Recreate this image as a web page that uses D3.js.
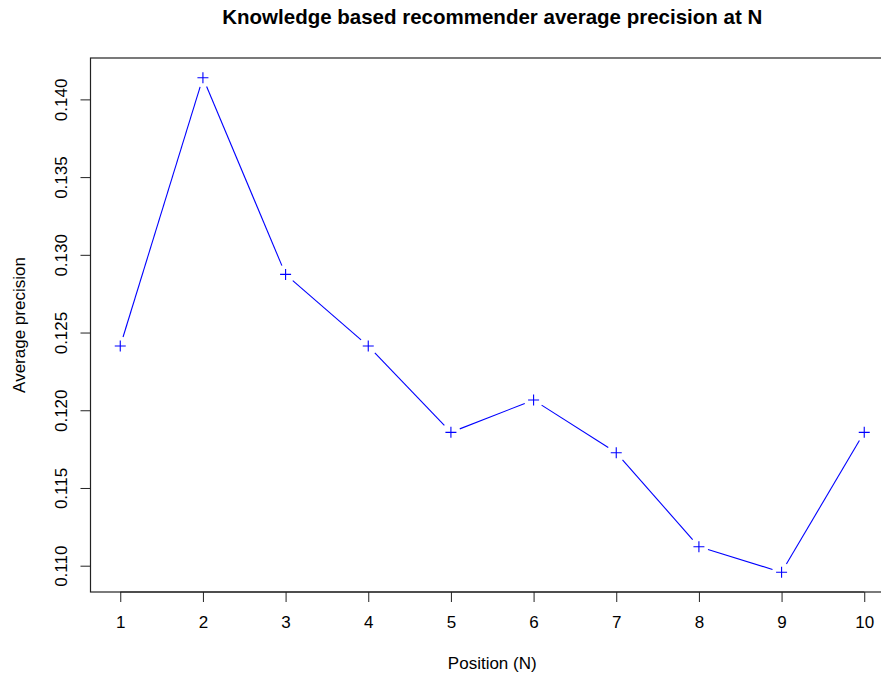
<!DOCTYPE html>
<html><head><meta charset="utf-8">
<script src="https://cdn.jsdelivr.net/npm/d3@7/dist/d3.min.js"></script>
<style>body{margin:0;background:#fff}svg{display:block}text{font-family:"Liberation Sans",Arial,sans-serif;fill:#000}</style>
</head><body>
<svg id="c" width="881" height="677"></svg>
<script>
const positions = [1,2,3,4,5,6,7,8,9,10];
const precision = [0.12413,0.14139,0.12874,0.12413,0.11858,0.12066,0.11727,0.11122,0.10958,0.11858];
const xTicks = [1,2,3,4,5,6,7,8,9,10];
const yTicks = [0.110,0.115,0.120,0.125,0.130,0.135,0.140];
const title = "Knowledge based recommender average precision at N";
const xLabel = "Position (N)";
const yLabel = "Average precision";

const svg = d3.select("#c");
const L = 90.5, R = 894, T = 58, B = 592;
const FS = 17;
const xe = d3.extent(positions), ye = d3.extent(precision);
const xp = (xe[1]-xe[0])*0.04, yp = (ye[1]-ye[0])*0.04;
const x = d3.scaleLinear().domain([xe[0]-xp, xe[1]+xp]).range([L, R]);
const y = d3.scaleLinear().domain([ye[0]-yp, ye[1]+yp]).range([B, T]);

// box
svg.append("rect").attr("x",L).attr("y",T).attr("width",R-L).attr("height",B-T)
  .attr("fill","none").attr("stroke","#222").attr("stroke-width",1.2);

// x axis
const xa = svg.append("g").attr("transform",`translate(0,${B})`)
  .call(d3.axisBottom(x).tickValues(xTicks).tickFormat(d3.format("d")).tickSize(10).tickPadding(14).tickSizeOuter(0));
xa.select(".domain").attr("d",`M${x(xTicks[0])},0H${x(xTicks[xTicks.length-1])}`);
xa.selectAll("line,path").attr("stroke","#222");
xa.selectAll("text").attr("font-size",FS).attr("font-family","Liberation Sans, Arial, sans-serif").attr("fill","#000");

// y axis
const ya = svg.append("g").attr("transform",`translate(${L},0)`)
  .call(d3.axisLeft(y).tickValues(yTicks).tickFormat(d3.format(".3f")).tickSize(10).tickSizeOuter(0));
ya.select(".domain").attr("d",`M0,${y(yTicks[0])}V${y(yTicks[yTicks.length-1])}`);
ya.selectAll("line,path").attr("stroke","#222");
ya.selectAll(".tick text").attr("font-size",FS).attr("font-family","Liberation Sans, Arial, sans-serif").attr("fill","#000")
  .attr("x",null).attr("dy",null).attr("text-anchor","middle")
  .attr("transform","translate(-23.5,0) rotate(-90)");

// line segments with gaps (type = "b")
const gap = 9.5;
const pts = positions.map((p,i)=>[x(p), y(precision[i])]);
const segs = [];
for (let i=0;i<pts.length-1;i++){
  const [x1,y1]=pts[i],[x2,y2]=pts[i+1];
  const dx=x2-x1, dy=y2-y1, len=Math.hypot(dx,dy);
  if (len>2*gap){
    const ux=dx/len, uy=dy/len;
    segs.push([x1+ux*gap,y1+uy*gap,x2-ux*gap,y2-uy*gap]);
  }
}
svg.append("g").selectAll("line").data(segs).join("line")
  .attr("x1",d=>d[0]).attr("y1",d=>d[1]).attr("x2",d=>d[2]).attr("y2",d=>d[3])
  .attr("stroke","#0000ff").attr("stroke-width",1.1);

// plus markers
const s = 5.5;
svg.append("g").selectAll("path").data(pts).join("path")
  .attr("d",d=>`M${d[0]-s},${d[1]}H${d[0]+s}M${d[0]},${d[1]-s}V${d[1]+s}`)
  .attr("stroke","#0000ff").attr("stroke-width",1.1).attr("fill","none");

// titles
svg.append("text").attr("x",(L+R)/2).attr("y",24).attr("text-anchor","middle")
  .attr("font-size",20.5).attr("font-weight","bold").text(title);
svg.append("text").attr("x",(L+R)/2).attr("y",669).attr("text-anchor","middle")
  .attr("font-size",FS).text(xLabel);
svg.append("text").attr("transform",`translate(25,${(T+B)/2}) rotate(-90)`).attr("text-anchor","middle")
  .attr("font-size",FS).text(yLabel);
</script>
</body></html>
